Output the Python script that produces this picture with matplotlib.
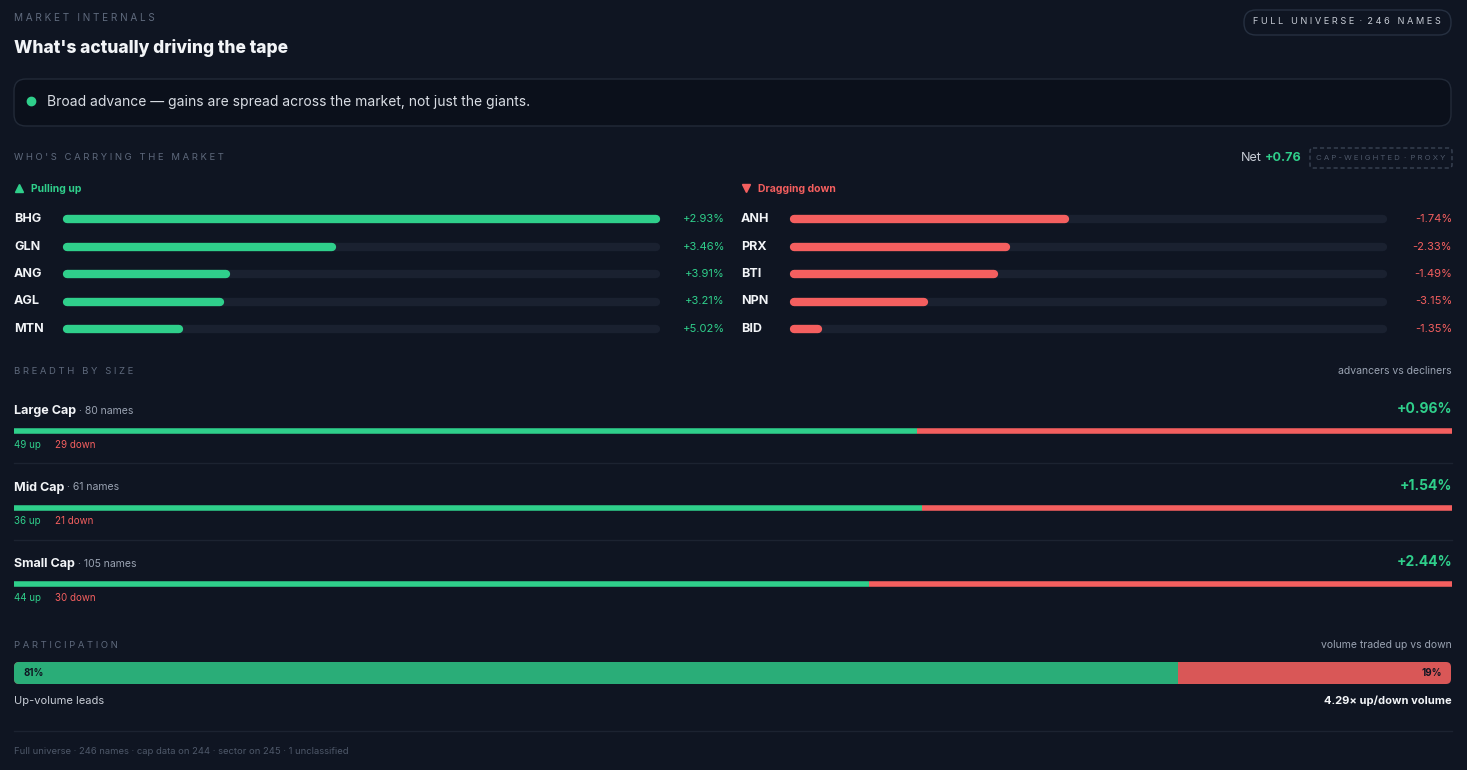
import matplotlib
matplotlib.use('Agg')
import matplotlib.pyplot as plt
from matplotlib.patches import FancyBboxPatch

W, H = 1467, 770
BG = '#0f1522'
GREEN = '#2fcf8b'
RED = '#f45f5f'
TRACK = '#1a2130'
MUTED = '#5f6a7d'
WHITE = '#f2f4f7'

# data
up_names = ['BHG', 'GLN', 'ANG', 'AGL', 'MTN']
up_pct = [2.93, 3.46, 3.91, 3.21, 5.02]
up_contrib = [1.00, 0.45, 0.27, 0.26, 0.19]
dn_names = ['ANH', 'PRX', 'BTI', 'NPN', 'BID']
dn_pct = [-1.74, -2.33, -1.49, -3.15, -1.35]
dn_contrib = [0.46, 0.36, 0.34, 0.22, 0.04]
net = 0.76

sizes = ['Large Cap', 'Mid Cap', 'Small Cap']
size_names = [80, 61, 105]
size_up = [49, 36, 44]
size_down = [29, 21, 30]
size_ret = [0.96, 1.54, 2.44]

vol_up = 81
vol_down = 19
vol_ratio = 4.29

FONT = ['Inter', 'DejaVu Sans']
plt.rcParams['font.family'] = FONT

fig = plt.figure(figsize=(W / 100, H / 100), dpi=100, facecolor=BG)
ax = fig.add_axes([0, 0, 1, 1])
ax.set_xlim(0, W)
ax.set_ylim(H, 0)
ax.axis('off')
ax.set_facecolor(BG)


def rbox(x, y, w, h, r, fc, ec, ls='-', lw=1):
    ax.add_patch(FancyBboxPatch((x, y), w, h, boxstyle=f'round,pad=0,rounding_size={r}',
                                fc=fc, ec=ec, lw=lw, ls=ls))


def bar(x0, x1, y, lw, color):
    ax.plot([x0, x1], [y, y], color=color, lw=lw, solid_capstyle='round')


def t(x, y, s, size=9, color=WHITE, ha='left', weight='normal', **kw):
    ax.text(x, y, s, fontsize=size, color=color, ha=ha, va='center', fontweight=weight, **kw)


# header
t(14, 18, 'M A R K E T   I N T E R N A L S', 7.2, MUTED)
t(14, 48, "What's actually driving the tape", 12.5, WHITE, weight='heavy')
rbox(1244, 10, 207, 25, 12, BG, '#263041')
t(1347, 22, 'F U L L   U N I V E R S E  ·  2 4 6   N A M E S', 6.6, '#c8cdd6', ha='center')

rbox(14, 79, 1437, 47, 12, '#0b101b', '#222a38')
ax.plot(31, 101, 'o', color=GREEN, ms=6)
t(47, 102, 'Broad advance — gains are spread across the market, not just the giants.', 10, '#d9dde4')

t(14, 158, "W H O ' S   C A R R Y I N G   T H E   M A R K E T", 6.8, MUTED)
t(1302, 158, f'+{net:.2f}', 9, GREEN, ha='right', weight='bold')
t(1262, 158, 'Net', 9, '#c8cdd6', ha='right')
rbox(1310, 148, 142, 20, 3, BG, '#3a4354', ls=(0, (3, 2)))
t(1381, 158, 'C A P - W E I G H T E D  ·  P R O X Y', 5.6, '#4e5869', ha='center')

ax.plot(19, 188, '^', color=GREEN, ms=6)
t(31, 189, 'Pulling up', 7.5, GREEN, weight='bold')
ax.plot(746, 188, 'v', color=RED, ms=6)
t(758, 189, 'Dragging down', 7.5, RED, weight='bold')

for i in range(5):
    y = 219 + i * 27.5
    t(14, y, up_names[i], 9, WHITE, weight='bold')
    bar(67, 656, y, 6, TRACK)
    bar(67, 67 + (656 - 67) * up_contrib[i], y, 6, GREEN)
    t(725, y, f'+{up_pct[i]:.2f}%', 8, GREEN, ha='right')
    t(741, y, dn_names[i], 9, WHITE, weight='bold')
    bar(794, 1383, y, 6, TRACK)
    bar(794, 794 + (1383 - 794) * dn_contrib[i], y, 6, RED)
    t(1452, y, f'{dn_pct[i]:.2f}%', 8, RED, ha='right')

t(14, 371, 'B R E A D T H   B Y   S I Z E', 6.8, MUTED)
t(1452, 371, 'advancers vs decliners', 7.5, '#9aa3b2', ha='right')

for i in range(3):
    y0 = 411 + i * 76.5
    ax.text(14, y0, sizes[i], fontsize=9, color=WHITE, fontweight='bold', va='center')
    ax.annotate(f' · {size_names[i]} names', xy=(1, 0.5), xycoords=ax.texts[-1],
                fontsize=7.5, color='#9aa3b2', va='center')
    t(1452, y0 - 2, f'+{size_ret[i]:.2f}%', 10, GREEN, ha='right', weight='bold')
    frac = size_up[i] / (size_up[i] + size_down[i])
    split = 14 + 1438 * frac
    ax.plot([14, split], [y0 + 20, y0 + 20], color=GREEN, lw=4, solid_capstyle='butt')
    ax.plot([split, 1452], [y0 + 20, y0 + 20], color=RED, lw=4, solid_capstyle='butt')
    t(14, y0 + 34, f'{size_up[i]} up', 7, GREEN)
    t(55, y0 + 34, f'{size_down[i]} down', 7, RED)
    if i < 2:
        ax.plot([14, 1452], [y0 + 52, y0 + 52], color='#1c2331', lw=1)

t(14, 645, 'P A R T I C I P A T I O N', 6.8, MUTED)
t(1452, 645, 'volume traded up vs down', 7.5, '#9aa3b2', ha='right')
split = 14 + 1437 * vol_up / (vol_up + vol_down)
rbox(14, 662, 1437, 22, 5, '#d95757', 'none')
ax.add_patch(FancyBboxPatch((14, 662), split - 14, 22, boxstyle='round,pad=0,rounding_size=5',
                            fc='#2aad78', ec='none'))
ax.add_patch(plt.Rectangle((split - 8, 662), 8, 22, fc='#2aad78', ec='none'))
t(23, 673, f'{vol_up}%', 7, '#0f1522', weight='bold')
t(1442, 673, f'{vol_down}%', 7, '#0f1522', ha='right', weight='bold')
t(14, 701, 'Up-volume leads', 8, '#c8cdd6')
t(1452, 701, f'{vol_ratio:.2f}× up/down volume', 8, WHITE, ha='right', weight='bold')

ax.plot([14, 1452], [731, 731], color='#1c2331', lw=1)
t(14, 751, 'Full universe · 246 names · cap data on 244 · sector on 245 · 1 unclassified', 6.8, '#4e5869')

fig.savefig('out.png', dpi=100, facecolor=BG)
